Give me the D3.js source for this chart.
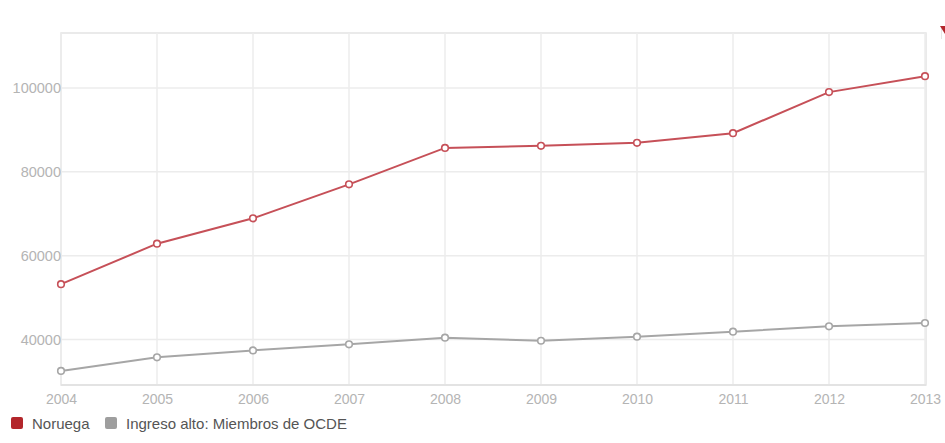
<!DOCTYPE html>
<html>
<head>
<meta charset="utf-8">
<script src="https://cdn.jsdelivr.net/npm/d3@7"></script>
<style>
  html, body { margin: 0; padding: 0; background: #fff; }
  svg { display: block; font-family: "Liberation Sans", Arial, sans-serif; }
</style>
</head>
<body>
<svg id="chart" width="945" height="443"></svg>
<script>
const years = [2004, 2005, 2006, 2007, 2008, 2009, 2010, 2011, 2012, 2013];
const noruega = [53200, 62850, 68900, 77000, 85700, 86200, 86900, 89200, 99000, 102800];
const ocde = [32500, 35750, 37400, 38850, 40430, 39700, 40670, 41860, 43150, 43940];
const yTicks = [40000, 60000, 80000, 100000];
const seriesNames = ["Noruega", "Ingreso alto: Miembros de OCDE"];
const lineColors = ["#c65058", "#a6a6a6"];
const legendColors = ["#b3262b", "#9e9e9e"];

(function () {
const svg = d3.select("#chart");
const pL = 61, pR = 926, pT = 33, pB = 385;

const x = d3.scaleLinear().domain([2004, 2013]).range([pL, pR - 1]);
const y = d3.scaleLinear().domain([29150, 113100]).range([pB, pT]);

svg.append("rect")
  .attr("x", pL).attr("y", pT)
  .attr("width", pR - pL).attr("height", pB - pT)
  .attr("fill", "#fff").attr("stroke", "#e4e4e4").attr("stroke-width", 1.5);

svg.append("g").selectAll("line").data(years).join("line")
  .attr("x1", d => x(d)).attr("x2", d => x(d))
  .attr("y1", pT).attr("y2", pB)
  .attr("stroke", "#ececec").attr("stroke-width", 1.5);

svg.append("g").selectAll("line").data(yTicks).join("line")
  .attr("x1", pL).attr("x2", pR)
  .attr("y1", d => y(d)).attr("y2", d => y(d))
  .attr("stroke", "#ececec").attr("stroke-width", 1.5);

const yAxis = d3.axisLeft(y).tickValues(yTicks).tickSize(0).tickPadding(0).tickFormat(d3.format("d"));
const ya = svg.append("g").attr("transform", `translate(${pL},0)`).call(yAxis);
ya.select(".domain").remove();
ya.selectAll("text").attr("fill", "#b4b4b4").attr("font-size", 14.5)
  .attr("font-family", "Liberation Sans, Arial, sans-serif");

const xAxis = d3.axisBottom(x).tickValues(years).tickSize(0).tickPadding(0).tickFormat(d3.format("d"));
const xa = svg.append("g").attr("transform", `translate(0,${pB + 9})`).call(xAxis);
xa.select(".domain").remove();
xa.selectAll("text").attr("fill", "#b4b4b4").attr("font-size", 14)
  .attr("font-family", "Liberation Sans, Arial, sans-serif");

svg.append("line").attr("x1", pL).attr("x2", pR).attr("y1", pB).attr("y2", pB)
  .attr("stroke", "#e0e0e0").attr("stroke-width", 1.5);

const line = d3.line().x((d, i) => x(years[i])).y(d => y(d));

[[ocde, lineColors[1]], [noruega, lineColors[0]]].forEach(([vals, col]) => {
  svg.append("path").datum(vals)
    .attr("d", line).attr("fill", "none")
    .attr("stroke", col).attr("stroke-width", 2);
  svg.append("g").selectAll("circle").data(vals).join("circle")
    .attr("cx", (d, i) => x(years[i])).attr("cy", d => y(d))
    .attr("r", 3.3).attr("fill", "#fff")
    .attr("stroke", col).attr("stroke-width", 1.6);
});

const legend = svg.append("g");
const lx = [11, 105];
seriesNames.forEach((name, i) => {
  legend.append("rect").attr("x", lx[i]).attr("y", 417).attr("width", 12).attr("height", 12)
    .attr("rx", 2).attr("fill", legendColors[i]);
  legend.append("text").attr("x", lx[i] + 21).attr("y", 428.5)
    .attr("font-size", 15).attr("fill", "#555").text(name);
});

svg.append("line").attr("x1", 941.5).attr("x2", 941.5).attr("y1", 27).attr("y2", 39)
  .attr("stroke", "#e6e6e6").attr("stroke-width", 1);
svg.append("path").attr("d", "M940,26 L945,26 L945,34 Z").attr("fill", "#b3262b");
})();
</script>
</body>
</html>
